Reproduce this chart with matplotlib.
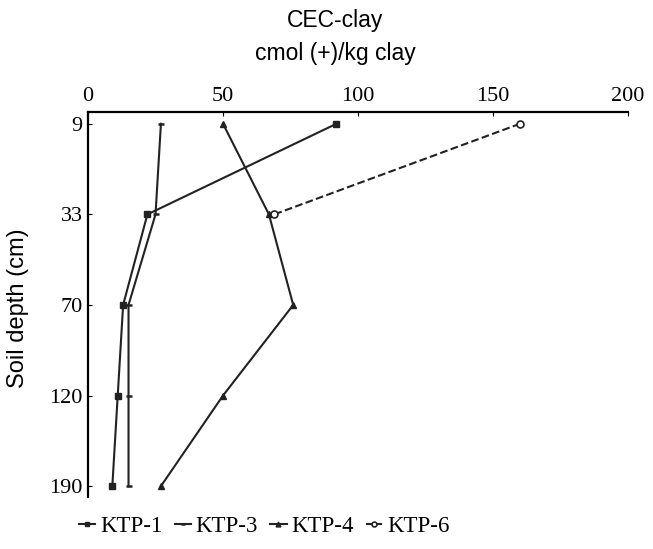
import numpy as np
import matplotlib
matplotlib.use('Agg')
import matplotlib.pyplot as plt

# soil depth categories (cm) and CEC-clay values, cmol(+)/kg clay
depths = ['9', '33', '70', '120', '190']
ktp1 = [92, 22, 13, 11, 9]
ktp3 = [27, 25, 15, 15, 15]
ktp4 = [50, 67, 76, 50, 27]
ktp6 = [160, 69, np.nan, np.nan, np.nan]

pos = np.arange(len(depths))
LC = '#222222'
serif = 'Liberation Serif'
sans = 'Liberation Sans'

fig = plt.figure(figsize=(6.53, 5.49), dpi=100)
ax = fig.add_axes([0.1348, 0.0947, 0.8269, 0.7013])

ax.plot(ktp1, pos, '-', color=LC, linewidth=1.5, marker='s', markersize=4,
        markerfacecolor=LC, label='KTP-1')
ax.plot(ktp3, pos, '-', color=LC, linewidth=1.5, marker='_', markersize=5,
        markeredgewidth=1.8, label='KTP-3')
ax.plot(ktp4, pos, '-', color=LC, linewidth=1.5, marker='^', markersize=5,
        markerfacecolor=LC, label='KTP-4')
ax.plot(ktp6, pos, '--', color=LC, linewidth=1.5, marker='o', markersize=5,
        markerfacecolor='white', markeredgewidth=1.2, label='KTP-6')

ax.set_xlim(0, 200)
ax.set_ylim(4.12, -0.13)
ax.xaxis.tick_top()
ax.set_xticks([0, 50, 100, 150, 200])
ax.set_yticks(pos)
ax.set_yticklabels(depths)
ax.tick_params(axis='both', direction='in', length=3, width=0.8,
               labelsize=16, pad=4)
for lab in ax.get_xticklabels() + ax.get_yticklabels():
    lab.set_fontfamily(serif)
ax.spines['right'].set_visible(False)
ax.spines['bottom'].set_visible(False)
ax.spines['top'].set_linewidth(1.6)
ax.spines['left'].set_linewidth(1.6)

ax.set_ylabel('Soil depth (cm)', fontsize=17, family=sans, labelpad=0)
ax.yaxis.set_label_coords(-0.11, 0.49)

fig.text(0.513, 0.962, 'CEC-clay', ha='center', va='center', fontsize=16.5,
         family=sans)
fig.text(0.513, 0.902, 'cmol (+)/kg clay', ha='center', va='center',
         fontsize=16.5, family=sans)

fig.legend(loc='lower left', bbox_to_anchor=(0.09, -0.015), ncol=4,
           frameon=False, prop={'family': serif, 'size': 16.5},
           handlelength=0.7, handletextpad=0.2, columnspacing=0.55,
           markerscale=0.7)

fig.savefig('out.png', dpi=100)
